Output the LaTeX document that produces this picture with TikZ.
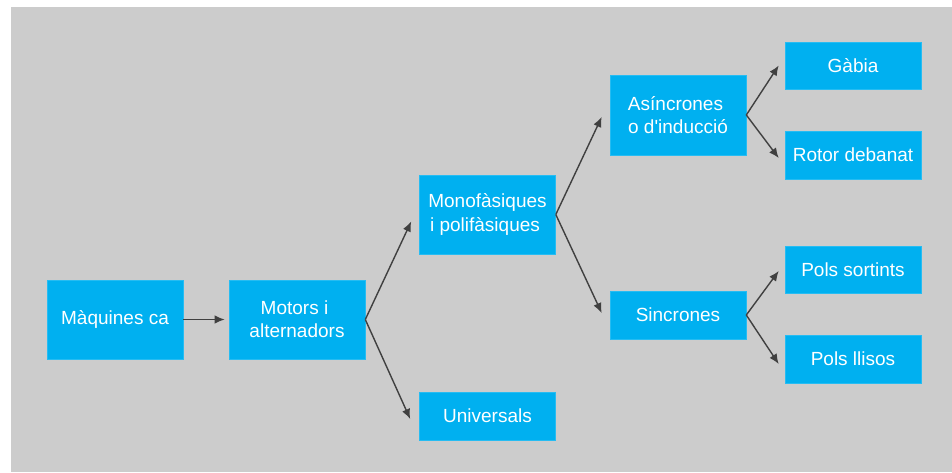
\documentclass[tikz,border=0pt]{standalone}
\usepackage{fontspec}
\setmainfont{Liberation Sans}[Ligatures=TeXOff]
\usetikzlibrary{arrows.meta}
\definecolor{boxblue}{HTML}{00B0F0}
\definecolor{panelgray}{HTML}{CCCCCC}
\definecolor{arrowgray}{HTML}{404040}
\begin{document}
\begin{tikzpicture}[x=1pt,y=-1pt,
  box/.style={fill=boxblue,draw=boxblue!85!white,line width=0.6pt,text=white,
    minimum width=136pt,inner sep=0pt,align=center,
    font=\fontsize{19}{23.3}\selectfont},
  tall/.style={box,minimum height=79pt},
  short/.style={box,minimum height=48pt},
  link/.style={draw=arrowgray,line width=1.4pt,
    -{Latex[length=10pt,width=8.5pt]}}]
  % canvas and grey panel
  \useasboundingbox (0,0) rectangle (952,472);
  \fill[white] (0,0) rectangle (952,472);
  \fill[panelgray] (11,7) rectangle (952,472);

  % boxes
  \node[tall]  (maq)  at (115,319.5) {Màquines ca};
  \node[tall]  (mot)  at (297,319.5) {Motors i\kern5pt\\alternadors};
  \node[tall]  (mono) at (487.5,214.5) {Monofàsiques\\i polifàsiques\kern5pt};
  \node[short] (univ) at (487.5,416) {Universals};
  \node[tall,minimum height=80pt] (asin) at (678,115) {Asíncrones\kern5pt\\o d'inducció};
  \node[short] (sinc) at (678,315) {Sincrones};
  \node[short,minimum height=47pt] (gab) at (853,65.5) {Gàbia};
  \node[short] (rot)  at (853,155) {Rotor debanat};
  \node[short,minimum height=47pt] (pss) at (853,269.5) {Pols sortints};
  \node[short] (pll)  at (853,359) {Pols llisos};

  % connectors
  \draw[link] (maq.east) -- ([xshift=-4pt]mot.west);
  \draw[link] (mot.east) -- ([xshift=-8pt,yshift=-7pt]mono.west);
  \draw[link] (mot.east) -- ([xshift=-9pt,yshift=-3pt]univ.west);
  \draw[link] (mono.east) -- ([xshift=-8pt,yshift=-2pt]asin.west);
  \draw[link] (mono.east) -- ([xshift=-8pt,yshift=2pt]sinc.west);
  \draw[link] (asin.east) -- ([xshift=-6pt]gab.west);
  \draw[link] (asin.east) -- ([xshift=-6pt,yshift=-3pt]rot.west);
  \draw[link] (sinc.east) -- ([xshift=-6pt,yshift=-1.5pt]pss.west);
  \draw[link] (sinc.east) -- ([xshift=-6pt,yshift=-5pt]pll.west);
\end{tikzpicture}
\end{document}
